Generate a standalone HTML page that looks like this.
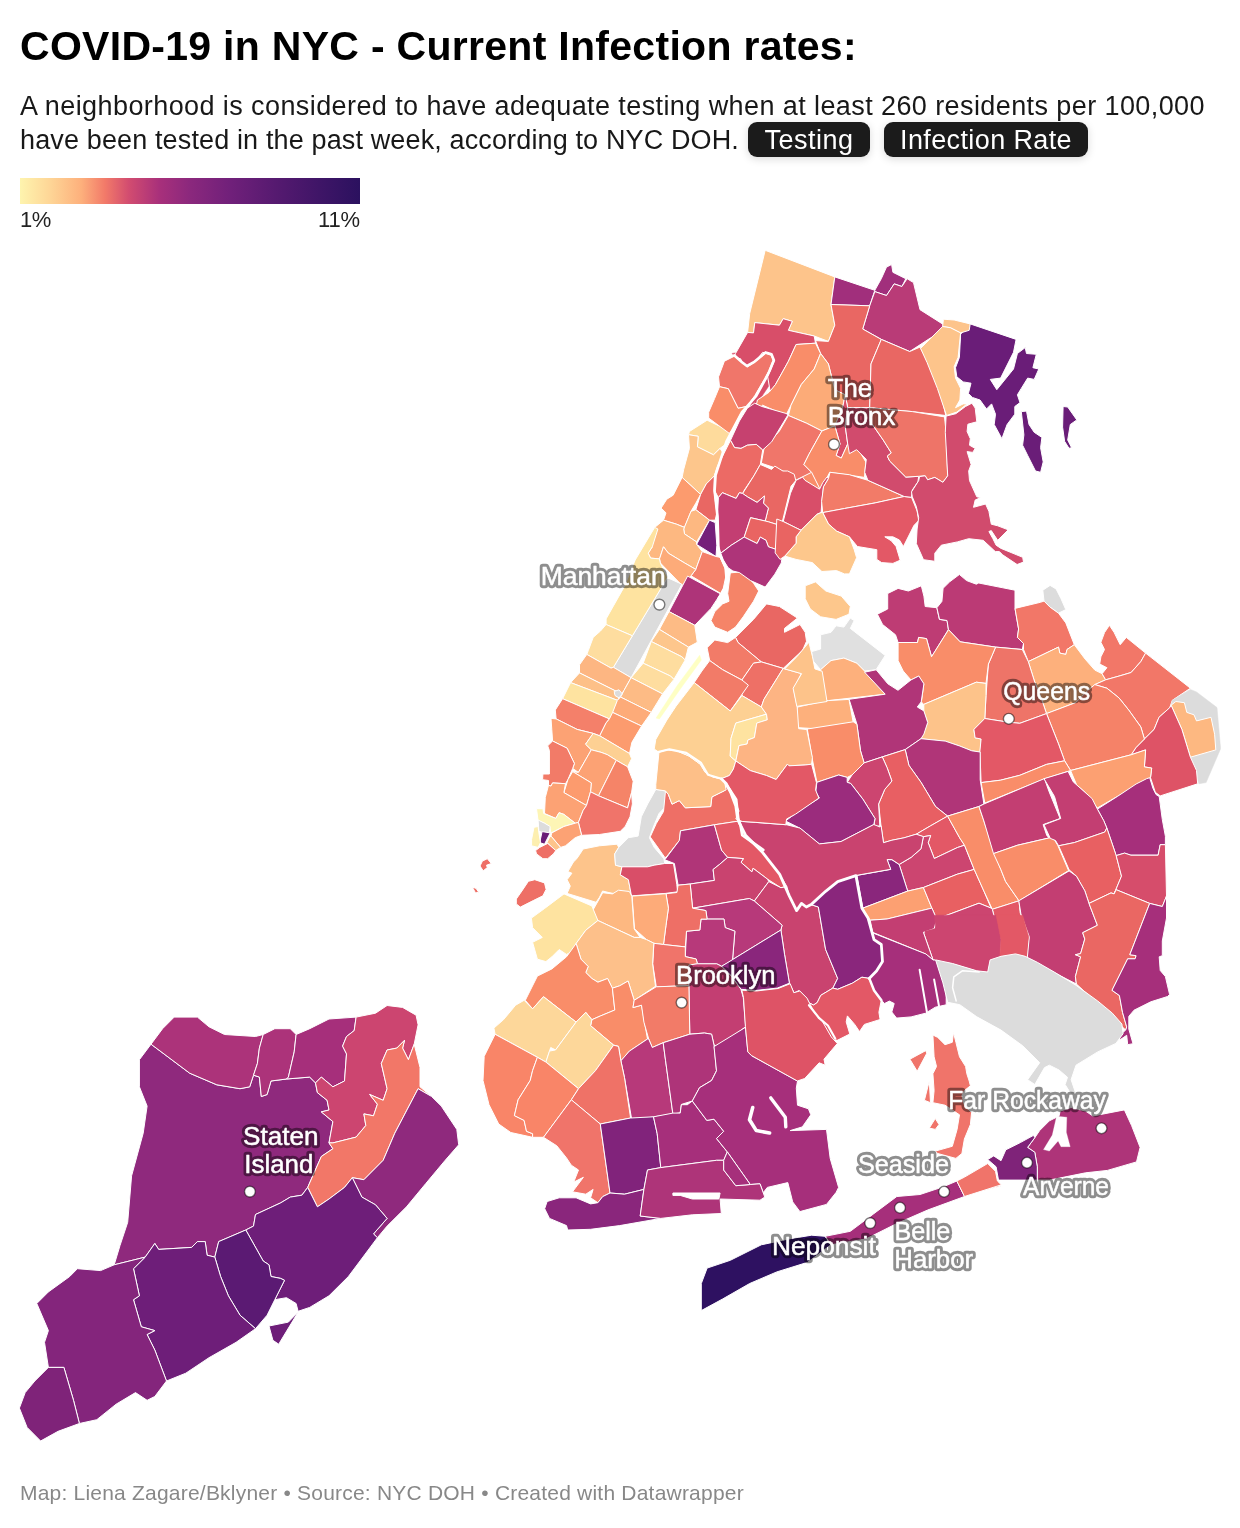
<!DOCTYPE html>
<html lang="en"><head><meta charset="utf-8"><title>COVID-19 in NYC - Current Infection rates</title>
<style>
html,body{margin:0;padding:0;background:#fff;}
body{width:1240px;height:1528px;position:relative;overflow:hidden;font-family:"Liberation Sans",sans-serif;color:#181818;}
h1{position:absolute;left:20px;top:21.5px;margin:0;font-size:41px;line-height:48px;font-weight:700;color:#000;white-space:nowrap;letter-spacing:0.29px;}
.d{position:absolute;left:20px;margin:0;font-size:27px;line-height:34px;color:#181818;white-space:nowrap;}
#d1{top:89.3px;letter-spacing:0.41px;} #d2{top:123.3px;letter-spacing:0.136px;}
.btn{position:absolute;top:122px;height:35px;background:#1b1b1b;color:#fff;border-radius:9px;font-size:27px;line-height:37px;text-align:center;box-shadow:0 2px 8px rgba(0,0,0,.15);white-space:nowrap;}
#b1{left:748px;width:122px;letter-spacing:0.49px;} #b2{left:884px;width:204px;letter-spacing:0.385px;}
.legend{position:absolute;left:20px;top:178px;width:340px;height:26px;background:linear-gradient(90deg,#fef4ae 0%,#fed596 9%,#fdb07c 18%,#f27a69 25%,#d24c70 32%,#a8307b 41%,#8b287d 50%,#70207a 62%,#561a70 75%,#3f1567 88%,#2b115f 100%);}
.l1,.l2{position:absolute;top:208px;font-size:22px;line-height:24px;color:#222;}
.l1{left:20px;letter-spacing:-0.6px;} .l2{right:880px;letter-spacing:-0.1px;}
.foot{position:absolute;left:20px;top:1480.5px;letter-spacing:0.21px;font-size:21px;line-height:24px;color:#888;white-space:nowrap;}
svg{position:absolute;left:0;top:0;}
</style></head><body>
<h1 id="t">COVID-19 in NYC - Current Infection rates:</h1>
<p class="d" id="d1">A neighborhood is considered to have adequate testing when at least 260 residents per 100,000</p>
<p class="d" id="d2">have been tested in the past week, according to NYC DOH.</p>
<span class="btn" id="b1"><span id="b1t">Testing</span></span><span class="btn" id="b2"><span id="b2t">Infection Rate</span></span>
<div class="legend"></div><div class="l1" id="l1">1%</div><div class="l2" id="l2">11%</div>
<svg width="1240" height="1528" viewBox="0 0 1240 1528">
<g stroke="#fff" stroke-width="1" stroke-linejoin="round">
<polygon fill="#f98d69" stroke="#f98d69" stroke-width="0.6" points="803.9,464.5 811.6,472.3 820.6,490.3 819.6,489.3 804.9,480.3 802.6,477.2 796.1,480.3 801.3,469.7"/>
<polygon fill="#d84e69" stroke="#d84e69" stroke-width="0.6" points="732.2,353.4 765.6,349.4 777.4,357.3 773.5,378.9 757.8,402.4 749.9,406.4 765.6,378.9 771.5,360.2 765.6,354.3 753.8,364.2 747.0,369.1 741.1,364.2"/>
<polygon fill="#fdc48b" points="765.2,250.3 834.8,276.9 831.0,304.5 834.8,325.2 828.4,341.4 814.2,336.0 788.4,330.3 792.3,321.3 783.2,318.7 779.4,325.2 754.8,322.6 753.5,332.9 747.6,332.4 749.7,313.5"/>
<polygon fill="#a12f7c" points="834.8,276.9 874.8,290.3 869.7,305.8 831.0,304.5"/>
<polygon fill="#a12f7c" points="874.8,290.3 881.3,278.7 886.5,267.1 891.6,264.5 892.9,272.3 905.8,278.7 901.9,286.5 894.2,283.9 886.5,295.5 874.8,291.6"/>
<polygon fill="#b93b77" points="874.8,291.6 886.5,295.5 894.2,283.9 901.9,286.5 907.1,278.7 913.5,282.6 920.0,309.7 948.4,327.7 930.3,338.1 909.7,351.5 881.3,339.4 862.7,329.0 869.7,305.8"/>
<polygon fill="#e96763" points="831.0,304.5 869.7,305.8 862.7,329.0 881.3,339.4 871.0,363.9 869.7,407.7 847.7,407.7 845.2,394.8 834.8,389.7 828.4,363.9 820.6,353.5 815.5,340.6 828.4,341.4 834.8,325.2"/>
<polygon fill="#e96763" points="881.3,339.4 909.7,351.5 920.0,347.1 927.7,361.3 940.6,392.3 945.8,415.5 912.3,411.6 869.7,407.7 871.0,363.9"/>
<polygon fill="#d84e69" points="747.6,332.4 753.5,332.9 754.8,322.6 779.4,325.2 783.2,318.7 792.3,321.3 788.4,330.3 814.2,336.0 815.5,343.2 796.1,344.5 788.4,361.3 775.5,384.5 770.3,392.3 767.7,376.8 774.2,361.3 767.7,353.5 762.6,352.3 754.8,362.6 744.5,367.7 740.6,358.7 734.2,357.4 735.5,353.5"/>
<polygon fill="#f98d69" points="796.1,344.5 815.5,343.2 820.6,353.5 814.2,369.0 801.3,384.5 791.0,405.2 785.8,415.5 762.6,405.2 754.8,412.9 757.4,400.0 769.0,392.3 775.5,384.5 788.4,361.3"/>
<polygon fill="#fcab78" points="820.6,353.5 828.4,363.9 834.8,389.7 845.2,394.8 842.6,407.7 834.8,425.8 821.9,431.0 806.5,423.2 788.4,415.5 791.0,405.2 801.3,384.5 814.2,369.0"/>
<polygon fill="#d84e69" points="845.2,394.8 847.7,407.7 845.2,425.8 847.7,443.9 841.3,458.1 836.1,455.5 840.0,443.9 834.8,425.8 842.6,407.7"/>
<polygon fill="#f0766a" points="788.4,415.5 806.5,423.2 821.9,431.0 809.0,454.2 803.9,464.5 811.6,472.3 796.1,480.0 785.8,472.3 772.9,467.1 761.3,463.2 763.9,449.0 779.4,431.0"/>
<polygon fill="#f98d69" points="821.9,431.0 834.8,425.8 840.0,443.9 836.1,455.5 841.3,458.1 847.7,443.9 858.1,449.0 865.8,461.9 864.5,477.4 829.7,472.3 820.6,490.3 811.6,472.3 803.9,464.5 809.0,454.2"/>
<polygon fill="#6a1d78" points="970.2,323.9 1016.1,339.4 1013.5,352.3 1000.6,378.1 990.3,379.4 996.8,389.7 1013.5,369.0 1017.4,353.5 1025.2,347.6 1026.5,353.5 1036.3,354.3 1032.9,367.7 1038.8,369.0 1034.2,379.4 1027.7,378.1 1021.3,388.4 1017.4,394.8 1020.0,402.6 1014.8,406.5 1014.8,414.2 1007.1,424.5 1001.9,438.7 994.2,424.5 995.5,414.2 991.6,403.9 986.5,409.0 980.0,400.0 972.3,397.4 968.4,393.5 971.0,383.2 963.2,381.9 956.8,376.8 955.5,367.7 959.4,357.4 960.6,334.2"/>
<polygon fill="#6a1d78" points="1021.3,411.6 1026.5,411.1 1029.0,424.5 1034.2,432.3 1041.9,437.4 1040.6,447.7 1043.2,461.9 1040.6,472.3 1035.5,471.0 1027.7,455.5 1022.6,445.2 1023.9,434.8"/>
<polygon fill="#6a1d78" points="1063.1,406.5 1067.7,407.0 1076.8,419.9 1070.3,424.5 1067.7,440.0 1071.6,447.7 1069.0,448.3 1064.6,441.3 1062.6,427.1"/>
<polygon fill="#fdc48b" points="943.4,319.2 954.2,320.0 970.2,323.9 969.2,330.3 960.6,332.9 950.3,327.7 942.6,326.5"/>
<polygon fill="#fdc48b" points="950.3,327.7 960.6,332.9 958.1,357.4 954.2,366.5 955.5,378.1 960.6,388.4 959.9,400.0 955.5,407.7 963.2,403.9 967.1,403.9 956.8,412.1 946.5,415.5 937.4,388.4 927.1,362.6 920.6,348.4 942.6,326.5"/>
<polygon fill="#f58468" points="730.3,572.9 743.2,571.6 753.5,583.2 758.7,591.0 753.5,601.3 743.2,616.8 735.5,627.1 727.7,632.3 714.8,627.1 711.0,620.6 714.8,611.6 722.6,603.9 729.0,601.3 727.7,593.5"/>
<polygon fill="#fdc78c" points="805.2,585.8 815.5,581.9 825.8,591.0 841.3,596.1 850.3,606.5 849.0,614.2 836.1,619.4 820.6,616.8 810.3,609.0 805.2,598.7"/>
<polygon fill="#e0e0e0" points="820.6,634.8 831.0,632.3 836.1,625.8 843.9,627.1 850.3,618.1 854.2,620.6 850.3,628.4 885.2,655.5 876.1,669.7 864.5,671.0 856.8,663.2 843.9,658.1 831.0,660.6 820.6,669.7 812.9,660.6 811.6,651.6 820.6,649.0"/>
<polygon fill="#e96763" points="766.5,603.9 779.4,606.5 797.4,618.1 784.5,628.4 784.5,632.3 800.0,624.5 805.2,632.3 806.5,641.3 802.6,650.3 783.2,668.4 761.3,661.9 738.1,642.6 735.5,637.4 753.5,619.4"/>
<polygon fill="#f27b68" points="714.8,640.0 727.7,642.6 735.5,637.4 738.1,642.6 761.3,661.9 753.5,663.2 741.9,680.0 722.6,669.7 709.7,660.6 707.1,647.7"/>
<polygon fill="#ee7066" points="761.3,661.9 783.2,668.4 763.9,699.4 761.3,707.1 741.9,695.5 741.9,680.0 753.5,663.2"/>
<polygon fill="#f27b68" points="709.7,660.6 722.6,669.7 741.9,680.0 748.4,685.2 730.3,711.0 694.2,682.6 701.9,671.0"/>
<polygon fill="#fdb07c" points="820.6,669.7 831.0,660.6 843.9,658.1 856.8,663.2 864.5,671.0 885.2,694.2 828.4,700.6 825.8,700.6"/>
<polygon fill="#fdb07c" points="797.4,707.1 825.8,700.6 828.4,700.6 849.0,699.4 854.2,727.7 820.6,729.0 798.7,727.7 794.8,725.2"/>
<polygon fill="#be3c74" points="887.7,593.5 898.1,588.4 908.4,591.0 921.3,585.8 923.9,596.1 925.2,606.5 936.8,607.7 939.4,619.4 947.1,620.6 948.4,629.7 931.6,656.8 926.5,638.7 918.7,637.4 917.4,642.6 898.1,642.6 895.5,634.8 882.6,624.5 877.4,614.2 887.7,609.0"/>
<polygon fill="#fedb9c" points="707.1,420.2 727.3,429.8 731.3,434.7 726.5,443.5 720.0,448.4 713.5,454.8 697.4,446.8 698.2,436.3 688.5,434.7 689.4,431.5"/>
<polygon fill="#fdc68c" points="688.5,434.7 698.2,436.3 697.4,446.8 713.5,454.8 720.0,448.4 723.2,453.2 716.8,467.7 714.4,475.8 706.3,483.9 700.6,494.4 682.1,477.4 683.7,469.4 689.4,448.4"/>
<polygon fill="#fc9b6e" points="682.1,477.4 700.6,494.4 695.8,503.2 691.0,511.3 684.5,527.4 676.5,524.2 663.5,520.2 666.0,512.9 661.1,508.1 666.8,499.2 673.2,495.2"/>
<polygon fill="#e96763" points="714.4,475.8 714.0,490.3 716.8,512.9 715.2,520.2 709.5,520.2 695.8,509.7 700.6,494.4 706.3,483.9"/>
<polygon fill="#fdb881" points="691.0,511.3 695.8,509.7 709.5,520.2 696.6,541.9 684.5,533.9 683.7,529.0"/>
<polygon fill="#75207a" points="709.5,520.2 715.2,522.6 716.8,545.2 716.0,556.5 696.6,544.4"/>
<polygon fill="#fdb881" points="663.5,520.2 676.5,524.2 684.5,527.4 683.7,529.0 684.5,533.9 696.6,541.9 696.6,544.4 702.3,551.6 695.8,569.4 684.5,562.9 668.4,553.2 663.5,546.8 659.5,558.9 650.6,558.1 648.2,553.2 652.3,546.8 649.8,544.4 654.7,527.4"/>
<polygon fill="#f4806a" points="702.3,551.6 716.0,556.5 720.0,557.3 724.8,567.7 725.6,577.4 723.2,588.7 720.8,593.5 691.0,575.8 695.8,569.4"/>
<polygon fill="#fdab79" points="668.4,553.2 684.5,562.9 695.8,569.4 691.0,575.8 682.1,585.5 660.3,562.9 659.5,558.9 663.5,546.8"/>
<polygon fill="#c6416f" points="754.7,403.2 761.9,406.5 786.9,413.7 787.7,415.3 771.6,441.9 762.7,450.0 756.3,444.4 747.4,445.2 741.0,448.4 734.5,447.6 730.5,440.3 739.4,421.0 747.4,408.1"/>
<polygon fill="#ec6a65" points="730.5,440.3 734.5,447.6 741.0,448.4 747.4,445.2 756.3,444.4 762.7,450.0 760.3,464.5 753.9,475.8 744.2,490.3 742.6,493.5 739.4,492.7 736.1,498.4 726.5,494.4 722.4,492.7 718.4,497.6 714.4,490.3 714.4,475.8 720.0,461.3"/>
<polygon fill="#e96763" points="760.3,464.5 766.0,466.9 771.6,469.4 774.8,466.1 782.9,471.0 787.7,471.0 794.2,474.2 795.8,480.6 791.0,486.3 784.5,512.9 781.3,525.8 768.4,521.8 765.2,521.0 768.4,508.1 763.5,503.2 764.4,496.0 757.1,502.4 747.4,496.8 742.6,493.5 753.9,475.8"/>
<polygon fill="#c33e72" points="718.4,497.6 722.4,492.7 726.5,494.4 736.1,498.4 739.4,492.7 742.6,493.5 747.4,496.8 757.1,502.4 764.4,496.0 763.5,503.2 768.4,508.1 765.2,521.0 750.6,517.7 744.2,537.1 731.3,545.2 720.8,553.2 718.4,545.2 717.6,512.9"/>
<polygon fill="#e96462" points="750.6,517.7 765.2,521.0 768.4,521.8 781.3,525.8 784.5,522.6 791.0,523.4 797.4,530.6 795.8,537.1 791.0,545.2 782.9,551.6 768.4,546.8 766.0,540.3 760.3,537.1 757.1,543.5 744.2,537.1"/>
<polygon fill="#ae3479" points="720.8,553.2 731.3,545.2 744.2,537.1 757.1,543.5 760.3,537.1 766.0,540.3 768.4,546.8 782.9,551.6 781.3,562.9 774.8,574.2 765.2,587.1 750.6,580.6 739.4,572.6 732.9,571.0 728.1,567.7 723.2,559.7"/>
<polygon fill="#d84e69" points="796.1,480.3 802.6,477.1 805.0,480.3 819.5,489.2 822.7,482.7 826.8,477.1 828.4,478.7 823.5,486.8 821.9,501.3 821.1,512.6 817.1,514.2 801.0,530.3 783.2,521.5 790.5,493.2"/>
<polygon fill="#f27b68" points="830.0,472.3 849.4,474.7 867.9,480.3 904.2,496.5 875.2,502.9 844.5,508.5 822.7,512.6 821.6,501.3 823.5,486.8 828.4,478.7"/>
<polygon fill="#e35866" points="822.7,512.6 844.5,508.5 875.2,502.9 904.2,496.5 911.5,497.3 917.1,511.0 918.7,520.6 913.9,525.5 903.4,546.5 899.4,540.0 892.9,536.8 884.8,536.8 891.3,540.8 896.1,546.5 900.2,560.2 892.9,563.4 881.6,562.6 876.8,559.4 876.8,549.7 857.4,546.5 849.4,536.8 836.5,531.1 828.4,523.9"/>
<polygon fill="#fdc78c" points="817.1,514.2 821.1,512.6 822.7,512.6 828.4,523.9 836.5,531.1 849.4,536.8 854.2,549.7 856.6,557.7 849.4,573.9 844.5,573.9 836.5,570.6 821.9,571.5 812.3,562.6 796.1,559.4 784.8,556.1 796.1,543.2 796.1,536.8 801.0,530.3"/>
<polygon fill="#e96462" points="776.8,519.0 783.2,521.5 801.0,530.3 796.1,536.8 796.1,543.2 784.8,556.1 780.0,559.4 775.2,552.9"/>
<polygon fill="#d14b6d" points="847.7,407.7 869.7,407.7 869.7,420.6 883.2,440.0 891.3,452.9 887.3,456.1 889.7,461.0 905.8,477.1 918.7,476.3 917.9,481.9 912.3,490.0 911.5,497.3 904.2,496.5 867.9,480.3 864.7,472.3 866.3,459.4 856.6,449.7 849.4,453.7 847.7,443.9 845.2,425.8"/>
<polygon fill="#ee7468" points="869.7,407.7 912.3,411.6 944.5,416.9 946.1,432.3 947.7,475.8 942.9,482.3 934.8,477.4 927.6,479.8 925.2,475.8 918.7,476.3 905.8,477.1 889.7,461.0 887.3,456.1 891.3,452.9 883.2,440.0 869.7,420.6"/>
<polygon fill="#d14b6d" points="946.1,416.1 955.8,413.7 965.5,406.5 971.9,403.2 975.2,408.1 976.8,421.8 967.9,424.2 967.1,431.5 970.3,438.7 969.5,445.2 975.2,448.4 972.7,452.4 967.1,451.6 971.1,464.5 968.7,471.0 969.5,480.6 976.8,496.8 980.8,497.6 975.2,500.0 973.5,507.3 985.6,504.0 988.9,511.3 991.3,524.2 997.7,525.8 1008.2,529.8 997.7,540.3 991.3,530.6 988.9,531.5 992.9,538.7 996.1,545.2 1001.0,548.4 1022.7,557.3 1023.5,562.1 1017.1,564.5 1002.6,554.8 999.4,551.6 995.3,551.6 983.2,540.3 968.7,538.7 957.4,541.9 941.3,545.2 934.8,553.2 934.8,561.3 923.5,559.7 916.3,543.5 917.1,529.0 918.7,517.7 916.3,506.5 912.3,496.8 911.5,491.9 918.7,480.6 919.5,476.6 925.2,475.8 927.6,479.8 934.8,477.4 942.9,482.3 947.7,475.8 945.3,432.3"/>
<polygon fill="#dcdcdc" points="667.4,577.7 681.9,584.2 631.1,677.7 613.4,667.3"/>
<polygon fill="#ae3479" points="687.6,576.1 720.6,593.9 711.0,608.4 694.8,625.3 669.0,611.6"/>
<polygon fill="#fee3a0" points="654.7,527.4 657.9,529.0 652.3,546.8 648.2,553.2 650.6,558.1 659.5,558.9 660.3,562.9 668.4,579.0 667.4,577.7 640.2,622.9 632.4,635.8 606.1,624.5 606.1,618.9 623.9,587.4 635.2,560.0"/>
<polygon fill="#fedd9f" points="606.1,624.5 632.4,635.8 613.4,667.3 611.0,668.1 586.8,654.4 588.4,650.3 593.2,637.4 600.5,631.0"/>
<polygon fill="#fdb682" points="586.8,654.4 611.0,668.1 613.4,667.3 631.1,677.7 623.9,690.6 621.5,693.9 579.5,672.9 579.5,664.8"/>
<polygon fill="#fdc088" points="579.5,672.9 621.5,693.9 617.4,700.3 570.6,682.6"/>
<polygon fill="#fee3a0" points="570.6,682.6 617.4,700.3 612.6,714.8 609.4,718.9 562.6,698.7"/>
<polygon fill="#f4806a" points="562.6,698.7 609.4,718.9 606.1,722.9 599.7,735.8 593.2,733.4 577.1,729.4 556.1,718.9 555.3,710.0"/>
<polygon fill="#fdbb85" points="669.0,611.6 694.8,625.3 697.3,642.3 688.4,647.1 659.4,629.4"/>
<polygon fill="#fdc68c" points="659.4,629.4 688.4,647.1 685.2,660.0 681.9,656.8 651.3,641.5"/>
<polygon fill="#fedd9f" points="651.3,641.5 681.9,656.8 685.2,660.0 673.9,679.4 670.6,676.1 643.2,663.2"/>
<polygon fill="#fedd9f" points="643.2,663.2 670.6,676.1 673.9,679.4 662.6,693.9 631.1,677.7"/>
<polygon fill="#fdbb85" points="631.1,677.7 662.6,693.9 651.3,712.4 620.6,697.1 623.9,690.6"/>
<polygon fill="#fdab79" points="620.6,697.1 651.3,712.4 641.6,726.1 612.6,712.4 617.4,700.3"/>
<polygon fill="#fc9b6e" points="612.6,712.4 641.6,726.1 631.9,742.3 629.5,753.5 599.7,735.8 606.1,722.9 609.4,718.9"/>
<polygon fill="#feffc4" stroke="#feffc4" stroke-width="0.5" points="699.7,655.2 701.3,660.0 680.3,689.0 659.4,718.9 656.1,718.1 677.1,685.8"/>
<polygon fill="#dcdcdc" points="614.2,691.5 619.0,689.8 622.3,693.9 619.0,697.9 615.0,695.5"/>
<polygon fill="#fca274" points="551.0,718.4 556.1,718.9 577.1,729.4 593.2,733.4 591.3,736.1 585.6,744.2 591.3,749.8 578.4,772.4 572.7,768.4 574.4,763.5 567.1,748.2 552.6,741.0 551.8,729.7"/>
<polygon fill="#fdd093" points="591.3,736.1 593.2,733.4 599.7,735.8 629.5,753.5 631.6,758.7 627.6,766.8 616.3,760.3 607.4,754.7 601.0,752.3 591.3,749.8 585.6,744.2"/>
<polygon fill="#f27b68" points="552.6,741.0 567.1,748.2 574.4,763.5 572.7,768.4 567.9,779.7 565.5,783.7 552.6,782.9 551.0,786.1 548.5,785.3 548.5,780.5 542.6,779.7 542.9,774.0 549.4,774.0 549.4,750.6 547.7,745.8"/>
<polygon fill="#fca274" points="591.3,749.8 601.0,752.3 607.4,754.7 616.3,760.3 598.5,795.8 590.5,791.8 591.3,782.9 572.7,771.6 578.4,772.4"/>
<polygon fill="#fc9b6e" points="572.7,771.6 591.3,782.9 590.5,791.8 586.5,805.5 563.9,792.6 567.9,779.7"/>
<polygon fill="#f58468" points="616.3,760.3 627.6,766.8 630.0,773.2 633.2,781.3 631.6,792.6 627.6,807.9 598.5,795.8"/>
<polygon fill="#fca274" points="552.6,782.9 565.5,783.7 563.9,792.6 586.5,805.5 583.2,810.3 578.4,822.4 575.2,823.2 563.9,814.4 559.0,812.7 555.8,818.4 544.5,813.5 545.3,797.4 548.5,785.3 551.0,786.1"/>
<polygon fill="#f0746a" points="590.5,791.8 598.5,795.8 627.6,807.9 631.6,792.6 632.4,803.9 630.0,816.8 625.2,826.5 620.3,831.3 599.4,834.5 581.6,835.3 578.4,822.4 583.2,810.3 586.5,805.5"/>
<polygon fill="#fdf5b5" points="536.5,808.7 542.9,808.7 543.7,813.5 555.8,818.4 559.0,812.7 563.9,814.4 575.2,823.2 563.9,826.5 551.0,832.9 549.4,826.5 544.5,823.2 538.1,820.8"/>
<polygon fill="#dcdcdc" points="538.1,820.0 544.5,823.2 550.2,826.5 549.4,832.9 541.3,832.1 538.9,831.3"/>
<polygon fill="#6a1d78" points="542.1,831.6 550.2,832.9 544.5,844.2 539.7,842.6"/>
<polygon fill="#fdefb0" points="534.0,827.3 538.1,826.5 538.9,832.9 540.5,842.6 538.1,847.4 531.6,845.8 531.6,839.4"/>
<polygon fill="#fca274" points="578.4,822.4 581.6,835.3 575.2,837.7 565.5,845.8 560.6,847.4 551.0,836.1 551.8,832.9 563.9,826.5 575.2,823.2"/>
<polygon fill="#fdc48b" points="551.0,836.1 560.6,847.4 555.8,850.6 546.9,842.6 549.4,837.7"/>
<polygon fill="#ee6f66" points="539.7,847.4 547.7,843.4 555.8,850.6 553.4,853.9 547.7,858.7 542.9,858.7 536.5,853.9 535.6,850.6"/>
<polygon fill="#ee6f66" points="482.4,861.1 487.3,858.7 491.3,863.5 486.5,865.2 487.3,867.6 483.2,870.8 480.0,866.0"/>
<polygon fill="#ee6f66" points="528.4,881.3 534.8,879.7 544.5,882.9 546.1,889.4 542.9,895.8 533.2,900.6 520.3,907.1 516.3,903.9 516.3,899.0 521.9,891.0"/>
<polygon fill="#fdc48b" points="583.2,849.0 599.4,845.8 617.1,844.2 618.7,847.4 614.7,853.9 615.5,865.2 621.9,866.8 620.3,874.8 628.4,879.7 631.6,896.6 620.3,891.0 617.1,894.2 609.0,892.6 602.6,891.0 599.4,897.4 596.1,902.3 567.1,893.4 570.3,886.1 567.1,879.7 571.9,873.2 567.9,871.6 573.5,861.9 576.8,858.7 580.0,853.9"/>
<polygon fill="#dcdcdc" points="655.8,789.4 665.5,791.0 672.7,799.0 659.0,813.5 654.2,824.8 649.4,837.7 654.2,847.4 663.9,858.7 664.7,863.5 654.2,865.2 647.7,866.8 621.9,866.8 615.5,865.2 614.7,853.9 618.7,847.4 628.4,837.7 638.1,836.1 641.3,816.8 647.7,803.9"/>
<polygon fill="#d94e68" points="621.9,866.8 647.7,866.8 654.2,865.2 664.7,863.5 673.5,863.5 676.8,884.5 677.6,891.8 665.5,893.4 632.4,895.8 631.6,896.6 628.4,879.7 620.3,874.8"/>
<polygon fill="#bb3a75" points="943.1,588.3 949.7,581.8 959.4,574.5 966.6,580.6 976.3,584.2 978.7,583.0 1002.9,587.8 1015.0,590.2 1015.0,608.4 1018.6,629.0 1017.4,637.4 1023.5,643.5 1022.3,649.5 995.6,647.1 960.1,641.8 948.5,629.7 947.0,620.5 939.5,619.3 936.9,607.7 941.9,601.4"/>
<polygon fill="#dcdcdc" points="1042.8,590.2 1050.1,585.4 1056.1,589.0 1061.0,598.7 1065.8,609.6 1058.5,613.2 1050.1,607.2 1044.0,601.1"/>
<polygon fill="#f27768" points="1015.0,608.4 1040.4,602.3 1044.0,601.1 1050.1,607.2 1058.5,613.2 1065.8,622.9 1074.3,644.7 1067.0,649.5 1065.8,654.4 1059.8,653.1 1058.5,647.1 1028.3,661.6 1023.5,649.5 1023.5,643.5 1017.4,637.4 1018.6,629.0"/>
<polygon fill="#fdb07c" points="1028.3,661.6 1058.5,647.1 1059.8,653.1 1065.8,654.4 1067.0,649.5 1074.3,644.7 1085.2,659.2 1094.8,670.1 1102.1,673.7 1105.7,679.8 1094.8,684.6 1087.6,690.6 1075.5,702.7 1046.5,713.6 1041.6,699.1 1034.4,681.0"/>
<polygon fill="#f27768" points="1109.4,625.3 1114.2,632.6 1120.2,644.7 1126.3,637.4 1145.6,653.1 1140.8,661.6 1131.1,672.5 1119.0,676.1 1105.7,679.8 1102.1,673.7 1106.9,667.7 1099.7,664.0 1100.9,656.8 1104.5,649.5 1100.9,642.3 1104.5,632.6"/>
<polygon fill="#f27768" points="1145.6,653.1 1190.4,688.2 1172.3,700.3 1169.8,707.6 1159.0,717.3 1154.1,729.4 1144.4,739.0 1140.8,726.9 1128.7,710.0 1119.0,697.9 1106.9,688.2 1094.8,684.6 1105.7,679.8 1119.0,676.1 1131.1,672.5 1140.8,661.6"/>
<polygon fill="#dcdcdc" stroke="#dcdcdc" stroke-width="0.5" points="1172.3,700.3 1190.4,689.4 1196.5,691.9 1217.0,707.6 1220.6,748.7 1206.1,782.6 1198.9,783.8 1190.4,757.2 1181.9,729.4 1171.1,705.2"/>
<polygon fill="#fdb881" points="1171.1,705.2 1175.9,701.5 1184.4,702.7 1186.8,712.4 1194.0,714.8 1196.5,720.9 1211.0,717.3 1214.6,734.2 1215.8,749.9 1190.4,757.2 1181.9,729.4"/>
<polygon fill="#de5366" points="1169.8,707.6 1171.1,705.2 1181.9,729.4 1190.4,757.2 1196.5,770.5 1197.7,783.8 1160.2,795.9 1155.3,792.3 1150.5,777.7 1151.7,768.1 1144.4,766.9 1145.6,749.9 1131.1,754.8 1136.0,747.5 1144.4,739.0 1154.1,729.4 1159.0,717.3"/>
<polygon fill="#f58268" points="1046.5,713.6 1075.5,702.7 1087.6,690.6 1094.8,684.6 1106.9,688.2 1119.0,697.9 1128.7,710.0 1140.8,726.9 1144.4,739.0 1136.0,747.5 1131.1,754.8 1070.6,770.5 1064.6,760.8 1058.5,743.9"/>
<polygon fill="#fca072" points="1070.6,770.5 1131.1,754.8 1145.6,749.9 1144.4,766.9 1151.7,768.1 1150.5,777.7 1145.6,780.2 1097.3,808.0 1085.2,792.3 1076.7,785.0"/>
<polygon fill="#ee7468" points="995.6,647.1 1022.3,649.5 1028.3,661.6 1034.4,681.0 1041.6,699.1 1046.5,713.6 1019.8,723.3 1007.7,722.1 984.8,718.5 986.0,695.5 988.4,664.0 992.0,655.6"/>
<polygon fill="#f98d69" points="898.1,642.5 917.5,642.5 918.7,637.4 926.5,638.6 931.5,656.8 948.5,629.7 960.1,641.8 995.6,647.1 992.0,655.6 988.4,664.0 986.0,683.4 976.3,682.2 923.8,704.4 921.4,702.0 923.8,683.9 918.7,676.1 911.0,680.0 903.2,671.0 898.1,660.6"/>
<polygon fill="#fdc38a" points="923.8,704.4 976.3,682.2 986.0,683.4 986.0,695.5 984.8,718.5 973.9,729.4 975.1,737.8 981.1,739.0 980.2,752.1 971.7,750.9 959.6,746.0 945.1,741.2 920.9,738.8 927.7,722.6 923.8,711.7"/>
<polygon fill="#e35866" points="984.8,718.5 1007.7,722.1 1019.8,723.3 1046.5,713.6 1058.5,743.9 1064.6,760.8 1046.5,764.4 1019.8,775.3 1000.5,780.2 981.1,782.6 979.9,751.1 981.1,739.0 975.1,737.8 973.9,729.4"/>
<polygon fill="#f98d69" points="981.1,782.6 1000.5,780.2 1019.8,775.3 1046.5,764.4 1064.6,760.8 1070.6,770.5 1044.0,779.0 984.8,803.1"/>
<polygon fill="#b03578" points="849.1,699.3 885.2,694.2 864.6,672.2 876.2,669.8 887.8,683.8 898.0,690.3 911.0,679.9 918.8,676.0 923.9,683.8 921.2,701.9 917.3,707.0 923.9,710.9 927.7,722.5 923.9,734.1 921.0,738.7 905.2,749.6 882.3,756.9 864.1,762.9 860.5,750.8 856.9,724.2"/>
<polygon fill="#b03578" points="905.2,749.6 921.0,738.7 945.2,741.1 959.7,746.0 971.8,750.8 980.2,752.0 980.2,779.8 983.9,804.0 979.0,806.5 947.6,816.1 935.5,806.5 921.0,782.3 908.9,765.3"/>
<polygon fill="#e85f63" points="882.3,756.9 905.2,749.6 908.9,765.3 921.0,782.3 935.5,806.5 947.6,816.1 930.6,825.8 916.1,834.3 904.0,837.9 891.9,840.3 883.5,842.7 881.0,825.8 878.6,804.0 884.7,789.5 891.9,781.0 887.1,767.7"/>
<polygon fill="#cc4570" points="864.1,762.9 882.3,756.9 887.1,767.7 891.9,781.0 884.7,789.5 878.6,804.0 879.8,825.8 873.8,827.0 875.0,818.5 862.9,799.2 850.8,783.5 847.2,782.3 852.0,775.0"/>
<polygon fill="#f98d69" points="807.3,729.0 853.2,721.8 856.9,724.2 860.5,750.8 864.1,762.9 852.0,775.0 847.2,777.4 838.7,775.0 816.9,782.3 812.1,758.1"/>
<polygon fill="#9b2c7d" points="816.9,782.3 838.7,775.0 847.2,777.4 847.2,782.3 850.8,783.5 862.9,799.2 875.0,818.5 873.8,824.6 841.1,841.5 819.4,844.0 800.0,828.2 785.5,821.0 800.0,810.1 819.4,798.0 815.7,791.9"/>
<polygon fill="#e35866" points="930.6,825.8 947.6,816.1 959.7,837.9 964.5,845.2 957.3,847.6 934.3,858.5 928.2,842.7 930.6,835.5 923.4,836.7 916.1,834.3"/>
<polygon fill="#cc4570" points="899.2,864.5 911.3,857.3 921.0,848.8 923.4,836.7 930.6,835.5 928.2,842.7 934.3,858.5 957.3,847.6 964.5,845.2 974.2,869.4 957.3,874.2 923.4,887.5 907.7,891.1"/>
<polygon fill="#8a267c" points="856.9,875.4 890.7,869.4 887.1,859.7 891.9,859.7 899.2,864.5 907.7,891.1 862.9,908.1"/>
<polygon fill="#fca072" points="862.9,908.1 907.7,891.1 923.4,887.5 931.9,908.1 887.1,919.0 870.2,920.2 865.3,912.9"/>
<polygon fill="#e86062" points="923.4,887.5 957.3,874.2 974.2,869.4 983.9,891.1 991.1,908.1 979.0,903.2 936.7,919.0 931.9,908.1"/>
<polygon fill="#f98d69" points="947.6,816.1 979.0,806.5 983.9,821.0 993.5,850.0 1000.8,869.4 1005.6,881.5 1019.0,900.8 992.3,909.3 983.9,891.1 974.2,869.4 964.5,845.2 959.7,837.9"/>
<polygon fill="#c33e72" points="979.0,806.5 983.9,804.0 1044.4,778.6 1049.2,791.9 1060.1,818.5 1043.1,824.6 1046.8,835.5 1049.2,837.9 1017.7,845.2 993.5,853.6 983.9,821.0"/>
<polygon fill="#f98d69" points="993.5,853.6 1017.7,845.2 1049.2,837.9 1054.0,839.1 1057.7,845.2 1068.6,870.6 1019.0,900.8 1005.6,881.5 1000.8,869.4"/>
<polygon fill="#e35866" points="992.3,909.3 1019.0,900.8 1020.2,912.9 1028.6,937.1 1029.8,960.1 1000.8,960.1 1000.8,941.9"/>
<polygon fill="#cc4570" points="936.7,919.0 979.0,903.2 991.1,908.1 992.3,909.3 1000.8,941.9 1000.8,960.1 933.1,960.1 923.4,932.3 934.3,928.6"/>
<polygon fill="#c33e72" points="870.2,920.2 887.1,919.0 931.9,908.1 936.7,919.0 934.3,928.6 923.4,932.3 933.1,960.1 925.8,954.0 872.6,932.3"/>
<polygon fill="#a62f7b" points="1097.4,809.1 1117.3,796.5 1136.1,784.0 1146.6,778.7 1149.7,777.7 1152.9,788.2 1156.0,794.5 1159.2,796.5 1162.3,819.6 1165.4,836.3 1165.4,844.7 1160.2,844.7 1158.1,855.2 1130.9,855.2 1124.6,853.1 1116.2,855.6 1106.8,828.0 1103.7,820.6"/>
<polygon fill="#c33e72" points="1044.0,778.7 1068.1,771.4 1073.3,781.9 1092.1,798.6 1097.4,809.1 1103.7,820.6 1106.8,828.0 1104.7,832.1 1074.3,842.6 1058.6,845.8 1055.5,840.5 1050.3,838.4 1044.0,824.8 1060.7,818.5 1054.5,796.5"/>
<polygon fill="#e86062" points="1058.6,845.8 1074.3,842.6 1104.7,832.1 1106.8,828.0 1116.2,855.6 1121.5,876.1 1114.1,893.9 1111.0,892.9 1089.0,903.4 1084.8,890.8 1076.4,876.1 1069.1,869.8 1062.8,855.2"/>
<polygon fill="#d64d6b" points="1116.2,855.6 1124.6,853.1 1130.9,855.2 1158.1,855.2 1160.2,844.7 1165.4,844.7 1166.5,896.0 1162.3,906.5 1149.7,903.4 1116.2,889.7 1114.1,893.9 1121.5,876.1"/>
<polygon fill="#c33e72" points="1018.8,900.8 1069.1,870.9 1076.4,876.1 1084.8,890.8 1089.0,903.4 1097.4,925.3 1082.7,932.7 1084.8,939.0 1080.6,953.6 1075.4,954.7 1080.6,956.8 1075.4,976.6 1076.4,984.0 1027.2,958.8 1029.3,936.9 1020.9,913.8"/>
<polygon fill="#ea6763" points="1089.0,903.4 1111.0,892.9 1114.1,893.9 1116.2,889.7 1149.7,903.4 1129.8,954.7 1136.1,955.7 1135.1,958.8 1127.7,958.8 1112.0,990.3 1119.4,995.5 1122.5,1012.3 1126.7,1026.9 1125.7,1030.1 1102.6,1008.1 1076.4,984.0 1075.4,976.6 1080.6,956.8 1075.4,954.7 1080.6,953.6 1084.8,939.0 1082.7,932.7 1097.4,925.3"/>
<polygon fill="#a62f7b" points="1149.7,903.4 1162.3,906.5 1166.5,896.0 1166.5,918.0 1162.3,941.0 1162.3,955.7 1159.2,956.8 1160.2,970.4 1165.4,976.6 1169.6,994.5 1167.5,996.5 1150.8,1001.8 1134.0,1010.2 1128.8,1016.4 1128.8,1029.0 1133.0,1043.7 1127.7,1044.7 1126.7,1035.3 1120.4,1039.5 1118.3,1036.3 1125.7,1030.1 1126.7,1026.9 1122.5,1012.3 1119.4,995.5 1112.0,990.3 1127.7,958.8 1135.1,958.8 1136.1,955.7 1129.8,954.7"/>
<polygon fill="#c9436f" points="800.0,828.1 819.4,843.9 841.1,841.5 873.8,824.5 879.8,826.9 881.1,825.7 883.5,842.7 891.9,840.2 904.0,837.8 916.1,834.2 923.4,836.6 921.0,848.7 911.3,857.2 899.2,864.4 891.9,859.6 887.1,859.6 890.7,869.3 856.9,875.3 848.4,877.7 837.7,881.6 825.6,891.3 811.1,904.6 806.3,907.0 801.5,903.4 796.6,910.6 789.4,896.1 779.7,874.4 762.7,852.6 745.8,835.6 738.5,821.1 786.9,824.8"/>
<polygon fill="#ee6f66" points="665.5,790.9 668.4,794.5 672.0,804.2 679.3,800.6 685.3,807.8 710.7,806.6 711.9,796.9 724.0,790.9 726.5,784.8 736.1,799.4 738.5,821.1 714.4,824.8 680.5,830.8 679.3,840.5 666.0,857.4 664.8,857.4 656.3,845.3 650.2,836.9 656.3,823.5 663.5,811.5"/>
<polygon fill="#b03578" points="680.5,830.8 714.4,824.8 721.6,850.2 727.7,857.4 719.2,864.7 713.1,869.5 714.4,880.4 690.2,884.0 678.1,885.2 674.4,863.5 664.8,859.8 679.3,840.5"/>
<polygon fill="#e35866" points="714.4,824.8 738.5,821.1 745.8,835.6 762.7,852.6 779.7,874.4 786.9,886.5 780.9,887.7 767.6,879.2 753.1,868.3 751.9,871.9 741.0,862.3 743.4,858.6 727.7,857.4 721.6,850.2"/>
<polygon fill="#c9436f" points="727.7,857.4 743.4,858.6 741.0,862.3 751.9,871.9 753.1,868.3 767.6,879.2 768.8,881.6 754.3,901.0 749.4,898.5 692.6,908.2 690.2,884.0 714.4,880.4 713.1,869.5 719.2,864.7"/>
<polygon fill="#c9436f" points="768.8,881.6 780.9,887.7 786.9,886.5 789.4,896.1 796.6,910.6 801.5,903.4 806.3,907.0 811.1,904.6 818.4,907.0 825.6,949.4 837.7,978.4 832.9,988.1 820.8,995.3 817.2,1002.6 813.5,1005.0 808.7,1002.6 806.3,997.7 799.0,990.5 794.2,992.9 789.4,983.2 784.5,954.2 780.9,930.0 782.1,925.2 754.3,901.0"/>
<polygon fill="#b7397a" points="692.6,908.2 749.4,898.5 754.3,901.0 782.1,925.2 780.9,930.0 721.6,966.3 732.5,960.2 734.9,931.2 725.2,927.6 724.0,919.1 707.1,919.1 705.9,910.6"/>
<polygon fill="#b7397a" points="686.5,931.2 699.8,930.0 701.0,919.1 707.1,919.1 724.0,919.1 725.2,927.6 734.9,931.2 732.5,960.2 721.6,966.3 716.8,963.9 697.4,963.9 696.2,959.0 685.3,956.6"/>
<polygon fill="#ee6f66" points="678.1,885.2 690.2,884.0 692.6,908.2 705.9,910.6 707.1,919.1 701.0,919.1 699.8,930.0 686.5,931.2 685.3,946.9 663.5,944.5 666.0,925.2 668.4,908.2 666.0,893.7 676.9,892.5"/>
<polygon fill="#fdab79" points="632.1,896.1 666.0,893.7 668.4,908.2 666.0,925.2 663.5,944.5 653.9,943.3 646.6,939.7 634.5,928.8"/>
<polygon fill="#f0746a" points="653.9,943.3 663.5,944.5 685.3,946.9 685.3,956.6 696.2,959.0 697.4,963.9 689.0,965.1 689.0,985.6 656.3,986.9 652.7,963.9"/>
<polygon fill="#8a267c" points="721.6,966.3 780.9,930.0 784.5,954.2 789.4,983.2 777.3,988.1 755.5,990.5 741.0,989.3 731.3,976.0"/>
<polygon fill="#8a267c" points="811.1,904.6 825.6,891.3 837.7,881.6 855.9,875.6 861.9,908.2 868.0,917.9 874.0,939.7 881.3,944.5 882.5,961.5 876.5,971.1 869.2,978.4 861.9,977.2 852.3,983.2 837.7,989.3 832.9,988.1 837.7,978.4 825.6,949.4 818.4,907.0"/>
<polygon fill="#e35866" points="813.5,1005.0 817.2,1002.6 820.8,995.3 832.9,988.1 837.7,989.3 852.3,983.2 861.9,977.2 869.2,978.4 874.0,990.5 881.3,1000.2 878.9,1012.3 880.1,1019.5 864.4,1024.4 859.5,1031.6 854.7,1024.4 847.4,1015.9 846.2,1021.9 849.8,1034.0 837.7,1040.1 832.9,1040.1 830.5,1036.5 820.8,1019.5 813.5,1012.3 808.7,1002.6"/>
<polygon fill="#c33e72" points="688.9,965.0 697.3,963.8 716.7,963.8 721.5,966.2 731.2,975.9 740.9,989.2 743.3,997.7 745.7,1026.7 718.9,1046.3 714.0,1045.1 711.6,1034.2 704.4,1033.0 689.8,1034.2 688.9,985.6"/>
<polygon fill="#fdb881" points="591.9,912.0 602.7,892.7 612.4,893.9 618.5,890.2 629.4,891.5 631.8,896.3 634.2,929.0 640.2,937.4 634.2,937.4 597.9,920.5"/>
<polygon fill="#fee3a0" points="564.0,893.9 591.9,906.0 597.9,920.5 585.8,930.2 576.1,943.5 573.7,950.7 566.5,954.4 559.2,949.5 551.9,956.8 545.9,961.6 537.4,959.2 532.6,942.3 542.3,937.4 532.6,927.7 531.4,918.1 544.7,908.4"/>
<polygon fill="#fdc08a" points="597.9,920.5 634.2,937.4 640.2,937.4 646.5,939.6 653.8,943.2 652.6,963.8 655.5,986.3 634.2,1000.3 628.1,981.0 619.7,985.8 612.4,988.2 607.6,978.5 597.9,982.2 591.9,978.5 585.8,972.5 588.2,966.5 581.0,959.2 576.1,943.5 585.8,930.2"/>
<polygon fill="#f98d69" points="576.1,943.5 581.0,959.2 588.2,966.5 585.8,972.5 591.9,978.5 597.9,982.2 607.6,978.5 612.4,988.2 614.8,1010.0 600.3,1016.0 591.9,1019.7 585.8,1012.4 576.1,1022.1 543.5,996.7 532.6,1008.8 525.3,1000.3 537.4,976.1 551.9,968.9 566.5,956.8"/>
<polygon fill="#f98d69" points="612.4,988.2 619.7,985.8 628.1,981.0 634.2,1000.3 633.0,1007.6 641.5,1005.2 647.5,1039.0 629.4,1051.1 620.9,1060.8 618.5,1046.3 613.6,1045.1 590.6,1025.7 591.9,1019.7 600.3,1016.0 614.8,1010.0"/>
<polygon fill="#f27b68" points="634.2,1000.3 656.2,986.8 688.9,985.6 689.8,1034.2 663.2,1042.7 652.3,1047.5 648.7,1039.0 643.9,1022.1 641.5,1005.2 633.0,1007.6"/>
<polygon fill="#fdd79a" points="543.5,996.7 576.1,1022.1 555.6,1049.9 550.7,1047.5 549.5,1051.1 545.9,1062.0 537.4,1057.2 495.1,1034.2 493.9,1028.1 503.5,1019.7 515.6,1005.2 524.1,1000.3 532.6,1008.8"/>
<polygon fill="#fdd79a" points="585.8,1012.4 591.9,1019.7 590.6,1025.7 613.6,1045.1 595.5,1070.5 578.5,1088.6 545.9,1062.0 549.5,1051.1 555.6,1049.9 576.1,1022.1"/>
<polygon fill="#b7397a" points="620.9,1060.8 629.4,1051.1 647.5,1039.0 648.7,1039.0 652.3,1047.5 663.2,1042.7 665.6,1060.8 672.9,1114.0 631.8,1120.1 624.5,1077.7"/>
<polygon fill="#ae3479" points="663.2,1042.7 689.8,1034.2 704.4,1033.0 711.6,1034.2 714.0,1045.1 716.5,1070.7 711.6,1080.4 699.5,1087.7 692.3,1101.0 681.4,1104.4 680.2,1112.8 672.9,1114.0 665.6,1060.8"/>
<polygon fill="#f98568" points="495.1,1034.3 537.4,1057.3 532.6,1070.6 530.2,1080.5 518.1,1099.8 514.4,1115.6 524.1,1120.4 526.5,1131.3 532.6,1133.7 532.6,1137.3 510.8,1132.5 498.7,1124.0 489.0,1104.7 483.0,1080.5 484.2,1056.3"/>
<polygon fill="#f98568" points="537.4,1057.3 545.9,1062.1 578.5,1088.7 571.3,1099.8 543.5,1137.3 532.6,1137.3 532.6,1133.7 526.5,1131.3 524.1,1120.4 514.4,1115.6 518.1,1099.8 530.2,1080.5 532.6,1070.6"/>
<polygon fill="#ef7267" points="613.6,1045.2 618.5,1046.4 620.9,1060.9 624.5,1077.8 630.6,1118.0 600.3,1124.0 571.3,1099.8 578.5,1088.7 595.5,1070.6"/>
<polygon fill="#f0746a" points="571.3,1099.8 600.3,1124.0 610.0,1193.0 602.7,1196.6 597.9,1202.7 590.6,1197.8 593.1,1189.4 585.8,1194.2 572.5,1191.8 583.4,1177.3 573.7,1182.1 578.5,1170.0 571.3,1165.2 566.5,1157.9 556.8,1145.8 543.5,1137.3"/>
<polygon fill="#81237b" points="600.3,1124.0 630.6,1118.0 653.5,1116.8 657.2,1133.7 660.8,1167.6 647.5,1170.0 643.9,1189.4 624.5,1194.2 610.0,1193.0"/>
<polygon fill="#a62f7b" points="653.5,1116.8 672.9,1113.1 680.2,1113.1 681.4,1104.7 687.4,1104.7 692.3,1101.0 706.8,1120.4 714.0,1119.2 723.7,1131.3 716.5,1138.5 727.3,1151.9 723.7,1160.3 716.5,1160.3 660.8,1167.6 657.2,1133.7"/>
<polygon fill="#ffffff" points="672.9,1193.0 720.1,1193.0 718.9,1199.0 692.3,1199.0 680.2,1195.4 672.9,1195.4"/>
<polygon fill="#8a267c" points="597.9,1202.7 602.7,1196.6 610.0,1193.0 624.5,1194.2 643.9,1189.4 640.2,1216.0 660.8,1218.4 619.7,1225.6 590.6,1229.3 567.7,1230.0 566.5,1225.6 549.5,1218.4 544.7,1208.7 547.1,1201.5 559.2,1197.8 576.1,1197.8 590.6,1203.9"/>
<polygon fill="#a62f7b" points="714.0,1046.6 745.5,1027.3 747.9,1051.9 751.5,1055.6 797.5,1081.0 796.3,1088.2 797.5,1105.2 808.4,1108.8 810.8,1114.8 802.3,1126.9 790.2,1130.6 826.5,1129.4 830.2,1158.4 838.6,1187.4 836.2,1192.3 826.5,1204.4 799.9,1211.6 792.7,1201.9 787.8,1182.6 767.3,1187.4 763.6,1192.3 764.8,1197.1 760.0,1183.8 750.3,1184.5 727.3,1151.9 716.5,1138.5 723.7,1131.3 714.0,1119.2 706.8,1120.4 692.3,1101.0 699.5,1087.7 711.6,1080.5 716.5,1070.8"/>
<polygon fill="#ae3479" points="647.5,1170.0 660.8,1167.6 716.5,1160.3 723.7,1160.3 723.7,1170.0 735.8,1185.7 750.3,1184.5 760.0,1183.8 764.8,1197.1 760.0,1200.2 720.1,1199.0 721.3,1213.5 692.3,1214.8 660.8,1218.4 640.2,1216.0 643.9,1189.4"/>
<polygon fill="#ffffff" points="672.9,1193.0 720.1,1193.0 718.9,1199.0 692.3,1199.0 680.2,1195.4 672.9,1195.4"/>
<polygon fill="#de5366" points="741.8,990.2 756.3,991.0 778.1,988.5 790.2,983.7 793.8,992.7 799.8,991.0 807.1,998.2 809.5,1003.1 814.4,1012.7 821.6,1020.0 831.3,1036.9 837.3,1043.5 824.0,1059.2 825.2,1065.2 819.2,1062.8 804.7,1078.5 797.4,1081.0 751.5,1055.6 747.8,1051.9 745.4,1026.5 743.5,997.7"/>
<polygon fill="#a62f7b" points="872.7,932.9 925.9,954.0 933.1,960.0 946.2,960.0 946.2,1004.8 935.3,1007.2 925.6,1013.2 911.1,1016.9 896.6,1018.1 891.8,1012.0 894.2,1003.5 889.4,1001.1 884.5,1003.5 881.4,1000.2 874.1,990.5 869.3,978.4 876.5,971.1 882.6,961.5 881.4,944.5 874.1,939.7"/>
<polygon fill="#cc4570" stroke="#cc4570" stroke-width="0.5" points="976.5,958.8 990.5,958.8 987.3,970.9 980.1,968.5"/>
<polygon fill="#f0746a" points="932.9,1035.0 937.7,1037.4 945.0,1044.7 952.3,1042.3 953.5,1032.6 955.9,1042.3 959.5,1056.8 965.6,1066.5 966.8,1073.7 969.2,1081.0 970.4,1085.8 964.4,1090.6 961.9,1095.5 964.4,1105.2 971.6,1112.4 970.4,1124.5 964.4,1139.0 961.9,1153.5 955.9,1158.4 937.7,1153.5 935.3,1151.1 952.3,1146.3 957.1,1129.4 959.5,1114.8 952.3,1110.0 945.0,1105.2 932.9,1102.7 934.1,1090.6 932.9,1073.7 936.5,1066.5 934.1,1056.8"/>
<polygon fill="#f0746a" points="909.9,1059.2 925.6,1050.7 926.9,1053.1 917.2,1071.3"/>
<polygon fill="#f0746a" points="924.4,1100.3 929.3,1081.0 930.5,1102.7"/>
<polygon fill="#f0746a" points="929.3,1128.1 935.3,1118.5 939.0,1124.5 935.3,1129.4"/>
<polygon fill="#f0746a" points="960.7,1181.4 986.1,1164.4 994.6,1170.5 995.8,1182.6 1000.6,1186.2 961.9,1195.9"/>
<polygon fill="#cc4570" stroke="#cc4570" stroke-width="0.5" points="924.8,930.9 935.6,928.5 934.4,915.2 996.1,915.2 1001.0,939.4 999.8,956.3 990.1,959.9 987.7,972.0 976.8,970.8 952.6,963.5 935.6,959.9"/>
<polygon fill="#e35866" stroke="#e35866" stroke-width="0.5" points="996.1,915.2 1022.7,915.2 1028.8,936.9 1025.2,956.3 1015.5,953.9 1001.0,956.3 999.8,956.3 1001.0,939.4"/>
<polygon fill="#dcdcdc" points="935.6,959.9 952.6,963.5 976.8,970.8 987.7,972.0 990.1,959.9 1001.0,956.3 1015.5,953.9 1025.2,956.3 1037.3,962.3 1054.2,972.0 1076.0,985.3 1097.7,1001.0 1112.3,1013.1 1121.9,1024.0 1123.1,1033.7 1115.9,1043.4 1097.7,1051.9 1076.0,1065.2 1071.1,1079.7 1076.0,1094.2 1071.1,1094.2 1065.1,1084.5 1067.5,1077.3 1059.0,1070.0 1049.4,1065.2 1044.5,1067.6 1034.8,1084.5 1027.6,1079.7 1039.7,1062.7 1022.7,1045.8 1001.0,1030.1 976.8,1016.8 959.8,1004.7 947.7,1002.3 942.9,982.9"/>
<polygon fill="#ae3479" points="1060.2,1111.1 1071.1,1107.5 1085.6,1111.1 1092.9,1116.0 1124.4,1109.9 1131.6,1125.6 1140.1,1147.4 1136.5,1161.9 1107.4,1170.4 1085.6,1172.8 1049.4,1180.1 1037.3,1180.1 1037.3,1166.8 1034.8,1152.3 1027.6,1147.4 1034.8,1137.7 1039.7,1130.5 1049.4,1120.8 1059.0,1116.0"/>
<polygon fill="#7f2379" points="987.7,1159.5 993.7,1155.9 1001.0,1160.7 1005.8,1149.8 1020.3,1142.6 1033.6,1135.3 1034.8,1137.7 1027.6,1147.4 1034.8,1152.3 1037.3,1166.8 1037.3,1180.1 998.5,1180.1 996.1,1166.8"/>
<polygon fill="#2e1161" points="701.3,1310.6 701.3,1283.5 707.1,1268.1 730.3,1260.3 761.3,1244.8 788.4,1239.0 811.6,1235.2 825.2,1236.3 831.0,1244.8 807.7,1262.3 776.8,1271.9 749.7,1283.5 722.6,1299.0"/>
<polygon fill="#a62f7b" points="825.2,1236.3 850.3,1231.3 873.5,1213.9 896.8,1196.5 920.0,1194.5 943.2,1186.8 956.8,1181.0 964.5,1196.5 927.7,1210.0 896.8,1223.5 865.8,1239.0 831.0,1244.8"/>
<polygon fill="#f0746a" points="956.8,1181.0 964.5,1177.1 987.7,1163.5 995.5,1171.3 997.4,1181.0 1001.3,1184.8 964.5,1196.5"/>
<polygon fill="#8f297d" points="151.0,1044.2 189.7,1073.2 216.8,1084.8 240.0,1088.7 249.7,1086.8 253.5,1075.2 259.4,1077.1 261.3,1096.5 267.1,1094.5 271.0,1081.0 286.5,1079.0 309.7,1077.1 315.5,1082.9 317.4,1092.6 327.1,1100.3 329.0,1110.0 321.3,1111.9 332.9,1121.6 329.0,1142.9 332.9,1148.7 321.3,1156.5 307.7,1187.4 301.9,1195.2 290.3,1197.1 280.6,1202.9 255.5,1214.5 253.5,1226.1 245.8,1230.0 218.7,1241.6 214.8,1257.1 207.1,1255.2 205.2,1241.6 197.4,1241.6 191.6,1247.4 158.7,1249.4 154.8,1243.5 145.2,1257.1 114.2,1264.8 120.0,1245.5 127.7,1222.3 131.6,1175.8 143.2,1133.2 147.1,1106.1 139.4,1086.8 139.4,1059.7"/>
<polygon fill="#ac337a" points="151.0,1044.2 162.6,1028.7 174.2,1017.1 197.4,1017.1 209.0,1026.8 224.5,1034.5 255.5,1036.5 263.2,1034.5 259.4,1048.1 257.4,1063.5 253.5,1075.2 249.7,1086.8 240.0,1088.7 216.8,1084.8 189.7,1073.2"/>
<polygon fill="#ac337a" points="263.2,1034.5 274.8,1028.7 290.3,1028.7 296.1,1034.5 294.2,1051.9 288.4,1077.1 286.5,1079.0 271.0,1081.0 267.1,1094.5 261.3,1096.5 259.4,1077.1 253.5,1075.2 257.4,1063.5 259.4,1048.1"/>
<polygon fill="#a62f7b" points="296.1,1034.5 309.7,1028.7 329.0,1019.0 356.1,1017.1 354.2,1030.6 346.5,1036.5 342.6,1046.1 346.5,1053.9 344.5,1081.0 332.9,1086.8 321.3,1077.1 315.5,1082.9 309.7,1077.1 286.5,1079.0 288.4,1077.1 294.2,1051.9"/>
<polygon fill="#cc4570" points="356.1,1017.1 375.5,1013.2 387.1,1005.5 402.6,1007.4 416.1,1015.2 418.1,1024.8 414.2,1044.2 408.4,1059.7 402.6,1048.1 404.5,1040.3 396.8,1048.1 387.1,1050.0 381.3,1063.5 387.1,1088.7 383.2,1100.3 369.7,1094.5 377.4,1104.2 373.5,1115.8 363.9,1113.9 365.8,1125.5 356.1,1137.1 332.9,1142.9 329.0,1142.9 332.9,1121.6 321.3,1111.9 329.0,1110.0 327.1,1100.3 317.4,1092.6 315.5,1082.9 321.3,1077.1 332.9,1086.8 344.5,1081.0 346.5,1053.9 342.6,1046.1 346.5,1036.5 354.2,1030.6"/>
<polygon fill="#f27768" points="414.2,1044.2 420.0,1067.4 420.0,1086.8 431.6,1096.5 418.1,1088.7 394.8,1133.2 383.2,1160.3 363.9,1179.7 352.3,1177.7 344.5,1187.4 329.0,1199.0 317.4,1206.8 307.7,1187.4 321.3,1156.5 332.9,1148.7 329.0,1142.9 332.9,1142.9 356.1,1137.1 365.8,1125.5 363.9,1113.9 373.5,1115.8 377.4,1104.2 369.7,1094.5 383.2,1100.3 387.1,1088.7 381.3,1063.5 387.1,1050.0 396.8,1048.1 404.5,1040.3 402.6,1048.1 408.4,1059.7"/>
<polygon fill="#8f297d" points="418.1,1088.7 431.6,1096.5 441.3,1106.1 456.8,1129.4 458.7,1144.8 445.2,1160.3 425.8,1183.5 406.5,1206.8 387.1,1226.1 377.4,1237.7 373.5,1233.9 387.1,1218.4 375.5,1204.8 361.9,1197.1 352.3,1177.7 363.9,1179.7 383.2,1160.3 394.8,1133.2"/>
<polygon fill="#6e1e79" points="352.3,1177.7 361.9,1197.1 375.5,1204.8 387.1,1218.4 373.5,1233.9 377.4,1237.7 360.0,1261.0 348.4,1276.5 329.0,1295.8 309.7,1307.4 298.1,1311.3 296.1,1303.5 286.5,1297.7 274.8,1299.7 284.5,1280.3 280.6,1278.4 271.0,1276.5 269.0,1264.8 263.2,1261.0 245.8,1230.0 253.5,1226.1 255.5,1214.5 280.6,1202.9 290.3,1197.1 301.9,1195.2 307.7,1187.4 317.4,1206.8 329.0,1199.0 344.5,1187.4"/>
<polygon fill="#5b1a73" points="245.8,1230.0 263.2,1261.0 269.0,1264.8 271.0,1276.5 280.6,1278.4 284.5,1280.3 274.8,1299.7 267.1,1315.2 255.5,1328.7 240.0,1315.2 228.4,1295.8 220.6,1276.5 214.8,1257.1 218.7,1241.6"/>
<polygon fill="#6e1e79" points="269.0,1326.0 288.4,1322.1 298.1,1312.1 278.7,1344.2 272.9,1340.3"/>
<polygon fill="#6e1e79" points="214.8,1257.1 220.6,1276.5 228.4,1295.8 240.0,1315.2 255.5,1328.7 236.1,1342.3 209.0,1357.7 185.8,1373.2 166.5,1381.0 154.8,1350.0 147.1,1334.5 154.8,1330.6 141.3,1326.8 133.5,1299.7 139.4,1295.8 133.5,1268.7 145.2,1257.1 154.8,1243.5 158.7,1249.4 191.6,1247.4 197.4,1241.6 205.2,1241.6 207.1,1255.2"/>
<polygon fill="#84257c" points="114.2,1264.8 145.2,1257.1 133.5,1268.7 139.4,1295.8 133.5,1299.7 141.3,1326.8 154.8,1330.6 147.1,1334.5 154.8,1350.0 166.5,1381.0 154.8,1396.5 147.1,1400.3 135.5,1392.6 116.1,1404.2 96.8,1419.7 79.4,1423.5 73.5,1400.3 63.9,1367.4 48.4,1367.4 44.5,1342.3 48.4,1330.6 36.8,1303.5 48.4,1291.9 69.7,1276.5 77.4,1268.7 100.6,1270.6"/>
<polygon fill="#7f2379" points="48.4,1367.4 63.9,1367.4 73.5,1400.3 79.4,1423.5 58.1,1431.3 40.6,1441.0 27.1,1427.4 19.4,1408.1 25.2,1392.6 34.8,1381.0"/>
<polygon fill="#fdbf88" points="659.0,751.9 666.5,749.8 676.1,750.5 689.0,756.0 700.3,764.3 705.2,772.3 713.1,777.1 721.4,778.8 724.5,781.9 726.2,789.9 724.0,790.9 711.9,796.9 710.7,806.6 685.3,807.8 679.3,800.6 672.0,804.2 668.4,794.5 665.5,790.9 655.8,789.4 655.8,784.6"/>
<polygon fill="#fdd093" points="694.2,682.6 730.3,711.0 741.9,695.5 761.3,706.9 766.5,714.2 735.8,723.1 731.0,738.4 730.2,756.1 735.8,761.0 733.4,769.0 729.4,775.5 721.3,778.7 713.2,777.1 705.2,772.3 700.3,764.2 689.0,756.1 676.1,750.5 666.5,749.7 659.0,752.3 654.2,749.0 655.8,739.4 666.9,720.0 676.1,706.1"/>
<polygon fill="#fee3a0" points="735.8,723.1 766.5,714.2 767.3,719.8 756.8,723.1 754.4,737.6 747.9,740.0 747.1,744.0 739.0,745.6 735.8,761.0 730.2,756.1 731.0,738.4"/>
<polygon fill="#fdb483" points="783.2,668.4 801.3,673.5 793.5,689.0 797.1,706.1 798.7,728.7 806.8,729.5 812.4,757.7 811.6,764.2 805.2,765.0 789.0,765.8 787.4,764.2 776.1,779.5 766.5,775.5 750.3,770.6 735.8,761.0 739.0,745.6 747.1,744.0 747.9,740.0 754.4,737.6 756.8,723.1 767.3,719.8 766.5,714.2 761.3,706.9 763.9,699.4"/>
<polygon fill="#e35866" points="735.8,761.0 750.3,770.6 766.5,775.5 776.1,779.5 787.4,764.2 789.0,765.8 805.2,765.0 811.6,764.2 816.5,782.7 815.6,790.0 818.9,798.1 795.5,814.2 786.6,819.0 785.8,824.7 755.2,822.3 742.3,821.5 735.8,819.0 739.0,811.0 735.8,802.9 731.0,790.0 724.5,781.9 721.3,778.7 729.4,775.5 733.4,769.0"/>
<polygon fill="#f0766a" points="718.5,376.9 724.4,361.2 734.2,356.3 742.1,362.2 747.0,367.1 753.8,362.8 765.6,353.4 771.1,355.3 773.1,360.2 768.6,371.4 764.6,378.9 754.8,395.6 747.0,406.4 738.1,408.3 728.3,388.7 719.5,386.7"/>
<polygon fill="#f98d69" points="719.5,386.7 728.3,388.7 738.1,408.3 747.0,406.4 741.1,413.2 732.2,429.9 729.3,433.4 708.7,418.1 708.7,412.2 714.6,398.5"/>
<polygon fill="#a62f7b" points="727.3,1151.9 750.3,1184.5 735.8,1185.7 723.7,1170.0 723.7,1160.3"/>
<polygon fill="#ee6f66" points="472.3,887.1 476.1,888.4 478.7,892.3 475.5,892.9"/>
<polygon fill="#fdc38a" points="808.9,642.3 812.5,656.8 814.9,668.9 822.2,671.3 827.0,701.5 796.8,706.4 793.1,688.2 801.6,673.7 784.7,668.9 796.8,656.8"/>
<polygon fill="#ffffff" stroke="#ffffff" stroke-width="0.3" points="1056.6,1116.2 1066.8,1117.2 1066.3,1132.2 1070.2,1146.7 1061.0,1146.7 1058.1,1140.9 1049.4,1151.1 1043.5,1149.6 1052.3,1135.1"/>
</g>
<polyline points="752.7,1107.6 749.5,1119.7 756.3,1130.6 769.6,1133.0" fill="none" stroke="#fff" stroke-width="3.6" stroke-linejoin="round" stroke-linecap="round"/>
<polyline points="770.8,1097.9 785.3,1117.3 785.8,1126.9" fill="none" stroke="#fff" stroke-width="3.4" stroke-linejoin="round" stroke-linecap="round"/>
<polyline points="919.6,969.7 926.9,1012.0" fill="none" stroke="#fff" stroke-width="2.0" stroke-linejoin="round" stroke-linecap="round"/>
<polyline points="934.1,979.4 939.0,1006.0" fill="none" stroke="#fff" stroke-width="2.0" stroke-linejoin="round" stroke-linecap="round"/>
<polyline points="979.2,972.0 962.3,970.8 953.8,976.9 952.6,987.7 956.2,1001.0" fill="none" stroke="#fff" stroke-width="1.5" stroke-linejoin="round" stroke-linecap="round"/>
<polyline points="721.3,778.7 726.1,783.5 731.0,793.2 735.8,806.1 737.4,817.4 740.6,825.5 742.3,835.2 763.2,850.0" fill="none" stroke="#fff" stroke-width="2.8" stroke-linejoin="round" stroke-linecap="round"/>
<polyline points="726.5,784.8 736.1,799.4 738.5,821.1 745.8,835.6 762.7,852.6 779.7,874.4 789.4,896.1 796.6,910.6 801.5,903.4 806.3,907.0 811.1,904.6 825.6,891.3 837.7,881.6 855.9,875.6 861.9,908.2 868.0,917.9 874.0,939.7 881.3,944.5 882.5,961.5 876.5,971.1 869.2,978.4" fill="none" stroke="#fff" stroke-width="2.8" stroke-linejoin="round" stroke-linecap="round"/>
<polyline points="869.3,978.4 874.1,990.5 881.4,1000.2" fill="none" stroke="#fff" stroke-width="2.5" stroke-linejoin="round" stroke-linecap="round"/>
<polyline points="734.2,355.3 742.0,362.2 747.0,366.0 753.8,362.2 765.6,352.4 771.5,354.3 773.9,360.2 769.5,371.0 765.6,378.9 755.8,396.5 742.0,412.2 726.4,441.7 715.6,475.0 714.6,490.8 717.5,516.3 718.5,551.6 726.4,569.3 726.4,585.0 718.5,598.7" fill="none" stroke="#fff" stroke-width="2.6" stroke-linejoin="round" stroke-linecap="round"/>
<polyline points="654.8,752.9 669.4,749.3 686.3,752.9 700.8,762.6 708.0,774.7 721.3,778.7" fill="none" stroke="#fff" stroke-width="2.2" stroke-linejoin="round" stroke-linecap="round"/>
<polyline points="809.0,1005.2 819.2,1018.2 827.9,1025.5 835.2,1038.5" fill="none" stroke="#fff" stroke-width="2.2" stroke-linejoin="round" stroke-linecap="round"/>
<g font-family="Liberation Sans, sans-serif" font-size="26" fill="#000" stroke="#000" opacity="0.44" stroke-width="6.3" stroke-linejoin="round">
<text x="827.7" y="397.2" textLength="44.3" lengthAdjust="spacingAndGlyphs">The</text>
<text x="827.8" y="424.8" textLength="67.5" lengthAdjust="spacingAndGlyphs">Bronx</text>
<text x="540.7" y="585.2" textLength="124.9" lengthAdjust="spacingAndGlyphs">Manhattan</text>
<text x="1003.3" y="699.7" textLength="86.8" lengthAdjust="spacingAndGlyphs">Queens</text>
<text x="676.1" y="984.0" textLength="99.4" lengthAdjust="spacingAndGlyphs">Brooklyn</text>
<text x="243.1" y="1144.8" textLength="75.4" lengthAdjust="spacingAndGlyphs">Staten</text>
<text x="244.3" y="1172.7" textLength="69.1" lengthAdjust="spacingAndGlyphs">Island</text>
<text x="948.3" y="1109.4" textLength="157.6" lengthAdjust="spacingAndGlyphs">Far Rockaway</text>
<text x="857.9" y="1172.5" textLength="91.1" lengthAdjust="spacingAndGlyphs">Seaside</text>
<text x="1023.1" y="1195.0" textLength="85.9" lengthAdjust="spacingAndGlyphs">Arverne</text>
<text x="771.9" y="1255.0" textLength="103.8" lengthAdjust="spacingAndGlyphs">Neponsit</text>
<text x="894.4" y="1239.9" textLength="55.9" lengthAdjust="spacingAndGlyphs">Belle</text>
<text x="894.3" y="1268.3" textLength="78.8" lengthAdjust="spacingAndGlyphs">Harbor</text>
</g>
<g font-family="Liberation Sans, sans-serif" font-size="26" fill="#fff" stroke="#fff" stroke-width="0.5" stroke-linejoin="round">
<text x="827.7" y="397.2" textLength="44.3" lengthAdjust="spacingAndGlyphs">The</text>
<text x="827.8" y="424.8" textLength="67.5" lengthAdjust="spacingAndGlyphs">Bronx</text>
<text x="540.7" y="585.2" textLength="124.9" lengthAdjust="spacingAndGlyphs">Manhattan</text>
<text x="1003.3" y="699.7" textLength="86.8" lengthAdjust="spacingAndGlyphs">Queens</text>
<text x="676.1" y="984.0" textLength="99.4" lengthAdjust="spacingAndGlyphs">Brooklyn</text>
<text x="243.1" y="1144.8" textLength="75.4" lengthAdjust="spacingAndGlyphs">Staten</text>
<text x="244.3" y="1172.7" textLength="69.1" lengthAdjust="spacingAndGlyphs">Island</text>
<text x="948.3" y="1109.4" textLength="157.6" lengthAdjust="spacingAndGlyphs">Far Rockaway</text>
<text x="857.9" y="1172.5" textLength="91.1" lengthAdjust="spacingAndGlyphs">Seaside</text>
<text x="1023.1" y="1195.0" textLength="85.9" lengthAdjust="spacingAndGlyphs">Arverne</text>
<text x="771.9" y="1255.0" textLength="103.8" lengthAdjust="spacingAndGlyphs">Neponsit</text>
<text x="894.4" y="1239.9" textLength="55.9" lengthAdjust="spacingAndGlyphs">Belle</text>
<text x="894.3" y="1268.3" textLength="78.8" lengthAdjust="spacingAndGlyphs">Harbor</text>
</g>
<g fill="#fff" stroke="#000" stroke-opacity="0.5" stroke-width="1.4">
<circle cx="834.0" cy="444.4" r="5.4"/>
<circle cx="659.4" cy="604.6" r="5.4"/>
<circle cx="1008.8" cy="718.8" r="5.4"/>
<circle cx="681.6" cy="1002.6" r="5.4"/>
<circle cx="249.9" cy="1191.6" r="5.4"/>
<circle cx="1101.5" cy="1128.3" r="5.4"/>
<circle cx="1027.0" cy="1162.7" r="5.4"/>
<circle cx="944.1" cy="1191.7" r="5.4"/>
<circle cx="900.0" cy="1207.7" r="5.4"/>
<circle cx="870.2" cy="1223.1" r="5.4"/>
</g>
</svg>
<div class="foot" id="f">Map: Liena Zagare/Bklyner • Source: NYC DOH • Created with Datawrapper</div>
</body></html>
